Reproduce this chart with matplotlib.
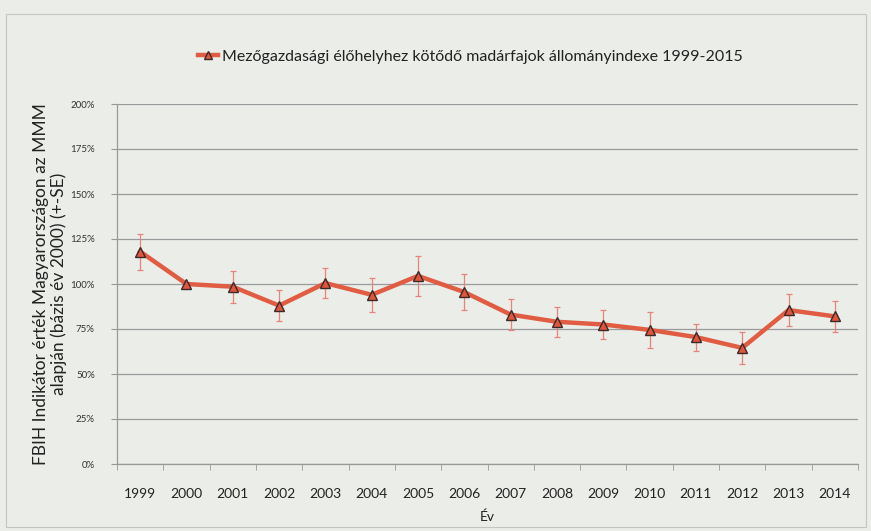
import numpy as np
import matplotlib.pyplot as plt
from matplotlib.patches import Rectangle

years = ['1999', '2000', '2001', '2002', '2003', '2004', '2005', '2006',
         '2007', '2008', '2009', '2010', '2011', '2012', '2013', '2014']
index = [118, 100, 98.5, 88, 100.5, 94, 104.5, 95.5,
         83, 79, 77.5, 74.5, 70.5, 64.5, 85.5, 82]
se = [10, 0, 9, 8.5, 8.5, 9.5, 11, 10,
      8.5, 8.5, 8, 10, 7.5, 9, 9, 8.5]

plt.rcParams['font.family'] = ['Lato', 'DejaVu Sans']

bg = '#ebede9'
fig = plt.figure(figsize=(8.71, 5.31), dpi=100, facecolor=bg)
# faint chart frame
fig.patches.append(Rectangle((6/871, 4/531), 860/871, 513/531, transform=fig.transFigure,
                             fill=False, edgecolor='#c4c6c2', lw=0.8))
ax = fig.add_axes([117/871, 67/531, 741/871, 360/531])
ax.set_facecolor(bg)

x = np.arange(len(years))
ax.errorbar(x, index, yerr=se, fmt='none', ecolor='#e8837a', elinewidth=0.9,
            capsize=2.5, capthick=0.9, zorder=2)
ax.plot(x, index, color='#e05c42', lw=3.2, marker='^', markersize=7.5,
        markerfacecolor='#e0553c', markeredgecolor='#3a2a2a', markeredgewidth=1.0,
        zorder=3, label='Mezőgazdasági élőhelyhez kötődő madárfajok állományindexe 1999-2015')

ax.set_xlim(-0.5, len(years) - 0.5)
ax.set_ylim(0, 200)
ax.set_yticks(np.arange(0, 201, 25))
ax.set_yticklabels(['%d%%' % v for v in range(0, 201, 25)], fontsize=7, color='#333333')
ax.set_xticks(x)
ax.set_xticklabels(years, fontsize=10, color='#222222')
ax.set_xticks(np.arange(-0.5, len(years), 1), minor=True)
ax.tick_params(axis='x', which='major', length=0, pad=17)
ax.tick_params(axis='x', which='minor', length=4, color='#999999', direction='out')
ax.tick_params(axis='y', length=4, color='#999999', pad=12)
ax.grid(axis='y', color='#9a9a9a', lw=0.9)
ax.set_axisbelow(True)
for s in ['top', 'right']:
    ax.spines[s].set_visible(False)
for s in ['left', 'bottom']:
    ax.spines[s].set_color('#999999')
    ax.spines[s].set_linewidth(0.9)

ax.set_xlabel('Év', fontsize=10, color='#222222', labelpad=8)
ax.set_ylabel('FBIH Indikátor érték Magyarországon az MMM\nalapján (bázis év 2000) (+-SE)',
              fontsize=12.5, color='#222222', labelpad=2, linespacing=1.1)

leg = fig.legend(loc='center', bbox_to_anchor=(470/871, 1 - 57/531), frameon=False,
                 fontsize=11.5, handlelength=1.3, handletextpad=0.2, markerscale=0.8)
for t in leg.get_texts():
    t.set_color('#222222')

fig.savefig('out.png', dpi=100, facecolor=bg)
